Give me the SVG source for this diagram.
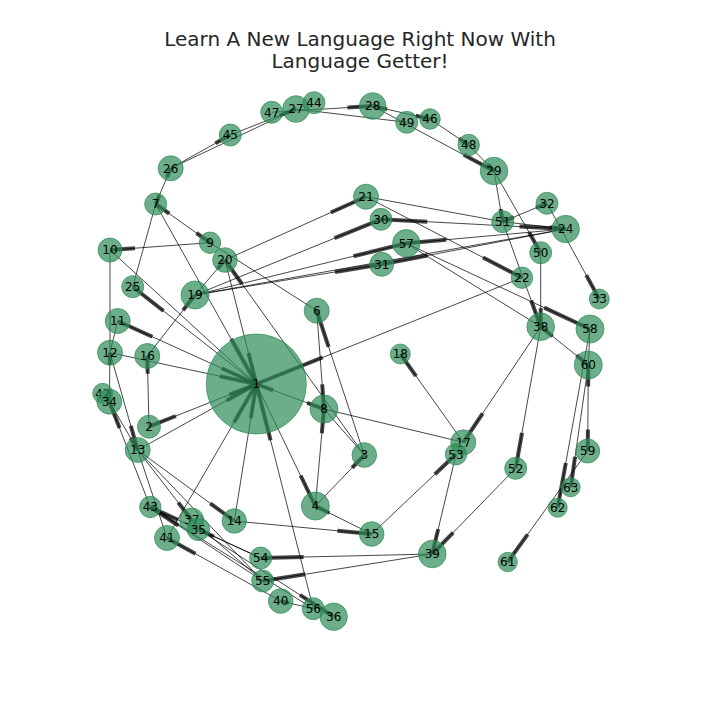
<svg xmlns="http://www.w3.org/2000/svg" width="720" height="720" viewBox="0 0 720 720">
<style>
.e{stroke:#000;stroke-opacity:0.72;stroke-width:1;fill:none}
.a{stroke:#000;stroke-opacity:0.72;stroke-width:4;fill:none}
.n{fill:#2E8B57;fill-opacity:0.7;stroke:#2E8B57;stroke-opacity:0.7;stroke-width:1}
.l{font-family:"DejaVu Sans","Liberation Sans",sans-serif;font-size:12px;fill:#000;text-anchor:middle}
.t{font-family:"DejaVu Sans","Liberation Sans",sans-serif;font-size:20px;fill:#262626;text-anchor:middle}
</style>
<rect width="720" height="720" fill="#fff"/>
<text class="t" x="360" y="46">Learn A New Language Right Now With</text>
<text class="t" x="360" y="68">Language Getter!</text>
<g id="edges">
<line class="e" x1="170.7" y1="168.3" x2="230.3" y2="135"/><line class="a" x1="215.4" y1="143.3" x2="230.3" y2="135"/>
<line class="e" x1="170.7" y1="168.3" x2="296" y2="109"/>
<line class="e" x1="230.3" y1="135" x2="296" y2="109"/><line class="a" x1="279.6" y1="115.5" x2="296" y2="109"/>
<line class="e" x1="271.7" y1="112.3" x2="372.7" y2="106"/><line class="a" x1="347.5" y1="107.6" x2="372.7" y2="106"/>
<line class="e" x1="296" y1="109" x2="406.7" y2="122.3"/>
<line class="e" x1="372.7" y1="106" x2="430" y2="119"/><line class="a" x1="415.7" y1="115.8" x2="430" y2="119"/>
<line class="a" x1="387" y1="109.3" x2="372.7" y2="106"/>
<line class="e" x1="372.7" y1="106" x2="494" y2="171"/><line class="a" x1="463.7" y1="154.8" x2="494" y2="171"/>
<line class="e" x1="430" y1="119" x2="468.7" y2="145"/><line class="a" x1="459" y1="138.5" x2="468.7" y2="145"/>
<line class="e" x1="468.7" y1="145" x2="494" y2="171"/><line class="a" x1="487.7" y1="164.5" x2="494" y2="171"/>
<line class="e" x1="494" y1="171" x2="502.7" y2="221.7"/><line class="a" x1="500.5" y1="209" x2="502.7" y2="221.7"/>
<line class="e" x1="494" y1="171" x2="540.7" y2="252.7"/><line class="a" x1="529" y1="232.3" x2="540.7" y2="252.7"/>
<line class="e" x1="366" y1="196.7" x2="502.7" y2="221.7"/>
<line class="e" x1="366" y1="196.7" x2="522" y2="277.7"/><line class="a" x1="483" y1="257.5" x2="522" y2="277.7"/>
<line class="e" x1="565.7" y1="229" x2="381" y2="219.3"/><line class="a" x1="427.2" y1="221.7" x2="381" y2="219.3"/>
<line class="a" x1="519.5" y1="226.6" x2="565.7" y2="229"/>
<line class="e" x1="502.7" y1="221.7" x2="565.7" y2="229"/><line class="a" x1="550" y1="227.2" x2="565.7" y2="229"/>
<line class="e" x1="547" y1="203.3" x2="502.7" y2="221.7"/><line class="a" x1="513.8" y1="217.1" x2="502.7" y2="221.7"/>
<line class="a" x1="535.9" y1="207.9" x2="547" y2="203.3"/>
<line class="e" x1="565.7" y1="229" x2="406.3" y2="243.3"/><line class="a" x1="446.2" y1="239.7" x2="406.3" y2="243.3"/>
<line class="e" x1="195" y1="295" x2="406.3" y2="243.3"/><line class="a" x1="353.5" y1="256.2" x2="406.3" y2="243.3"/>
<line class="e" x1="565.7" y1="229" x2="381.7" y2="264.3"/><line class="a" x1="427.7" y1="255.5" x2="381.7" y2="264.3"/>
<line class="e" x1="195" y1="295" x2="381.7" y2="264.3"/><line class="a" x1="335" y1="272" x2="381.7" y2="264.3"/>
<line class="e" x1="195" y1="295" x2="381" y2="219.3"/><line class="a" x1="334.5" y1="238.2" x2="381" y2="219.3"/>
<line class="e" x1="225" y1="260" x2="366" y2="196.7"/><line class="a" x1="330.8" y1="212.5" x2="366" y2="196.7"/>
<line class="e" x1="195" y1="295" x2="565.7" y2="229"/>
<line class="e" x1="406.3" y1="243.3" x2="590" y2="329"/><line class="a" x1="544.1" y1="307.6" x2="590" y2="329"/>
<line class="e" x1="406.3" y1="243.3" x2="540.7" y2="326.7"/>
<line class="e" x1="502.7" y1="221.7" x2="540.7" y2="326.7"/><line class="a" x1="531.2" y1="300.5" x2="540.7" y2="326.7"/>
<line class="e" x1="540.7" y1="252.7" x2="540.7" y2="326.7"/><line class="a" x1="540.7" y1="308.2" x2="540.7" y2="326.7"/>
<line class="e" x1="547" y1="203.3" x2="599.3" y2="299"/><line class="a" x1="586.2" y1="275.1" x2="599.3" y2="299"/>
<line class="e" x1="522" y1="277.7" x2="256.3" y2="384"/><line class="a" x1="322.7" y1="357.4" x2="256.3" y2="384"/>
<line class="e" x1="540.7" y1="326.7" x2="588.3" y2="365"/><line class="a" x1="576.4" y1="355.4" x2="588.3" y2="365"/>
<line class="a" x1="552.6" y1="336.3" x2="540.7" y2="326.7"/>
<line class="e" x1="588.3" y1="365" x2="587.7" y2="451"/><line class="a" x1="587.9" y1="429.5" x2="587.7" y2="451"/>
<line class="a" x1="588.2" y1="386.5" x2="588.3" y2="365"/>
<line class="e" x1="590" y1="329" x2="588.3" y2="365"/>
<line class="e" x1="590" y1="329" x2="557.7" y2="507.7"/><line class="a" x1="565.8" y1="463" x2="557.7" y2="507.7"/>
<line class="e" x1="588.3" y1="365" x2="570.7" y2="487.3"/><line class="a" x1="575.1" y1="456.7" x2="570.7" y2="487.3"/>
<line class="e" x1="587.7" y1="451" x2="507.7" y2="562"/><line class="a" x1="527.7" y1="534.3" x2="507.7" y2="562"/>
<line class="e" x1="540.7" y1="326.7" x2="463.3" y2="442.3"/><line class="a" x1="482.7" y1="413.4" x2="463.3" y2="442.3"/>
<line class="e" x1="540.7" y1="326.7" x2="515.7" y2="468.3"/><line class="a" x1="522" y1="432.9" x2="515.7" y2="468.3"/>
<line class="e" x1="463.3" y1="442.3" x2="400.3" y2="354"/><line class="a" x1="416.1" y1="376.1" x2="400.3" y2="354"/>
<line class="e" x1="324" y1="409" x2="463.3" y2="442.3"/>
<line class="e" x1="371.7" y1="534" x2="456" y2="454.3"/><line class="a" x1="434.9" y1="474.2" x2="456" y2="454.3"/>
<line class="e" x1="456" y1="454.3" x2="432.3" y2="554"/><line class="a" x1="438.2" y1="529.1" x2="432.3" y2="554"/>
<line class="e" x1="515.7" y1="468.3" x2="432.3" y2="554"/><line class="a" x1="453.2" y1="532.6" x2="432.3" y2="554"/>
<line class="e" x1="432.3" y1="554" x2="260.7" y2="558"/><line class="a" x1="303.6" y1="557" x2="260.7" y2="558"/>
<line class="e" x1="432.3" y1="554" x2="262.7" y2="581"/><line class="a" x1="305.1" y1="574.3" x2="262.7" y2="581"/>
<line class="e" x1="234.3" y1="521" x2="371.7" y2="534"/><line class="a" x1="337.4" y1="530.8" x2="371.7" y2="534"/>
<line class="e" x1="371.7" y1="534" x2="315.3" y2="506"/><line class="a" x1="329.4" y1="513" x2="315.3" y2="506"/>
<line class="e" x1="315.3" y1="506" x2="364.3" y2="455"/><line class="a" x1="352.1" y1="467.8" x2="364.3" y2="455"/>
<line class="e" x1="315.3" y1="506" x2="324" y2="409"/><line class="a" x1="321.8" y1="433.3" x2="324" y2="409"/>
<line class="e" x1="256.3" y1="384" x2="315.3" y2="506"/><line class="a" x1="300.6" y1="475.5" x2="315.3" y2="506"/>
<line class="e" x1="316.7" y1="310.7" x2="324" y2="409"/><line class="a" x1="322.2" y1="384.4" x2="324" y2="409"/>
<line class="e" x1="364.3" y1="455" x2="316.7" y2="310.7"/><line class="a" x1="328.6" y1="346.8" x2="316.7" y2="310.7"/>
<line class="e" x1="210" y1="242.7" x2="316.7" y2="310.7"/>
<line class="e" x1="324" y1="409" x2="364.3" y2="455"/>
<line class="e" x1="364.3" y1="455" x2="225" y2="260"/><line class="a" x1="242" y1="284" x2="225" y2="260"/>
<line class="e" x1="256.3" y1="384" x2="324" y2="409"/><line class="a" x1="307.1" y1="402.8" x2="324" y2="409"/>
<line class="a" x1="273.2" y1="390.3" x2="256.3" y2="384"/>
<line class="e" x1="155.7" y1="204" x2="170.7" y2="168.3"/><line class="a" x1="167" y1="177.2" x2="170.7" y2="168.3"/>
<line class="a" x1="159.5" y1="195.1" x2="155.7" y2="204"/>
<line class="e" x1="155.7" y1="204" x2="210" y2="242.7"/><line class="a" x1="196.4" y1="233" x2="210" y2="242.7"/>
<line class="a" x1="169.3" y1="213.7" x2="155.7" y2="204"/>
<line class="e" x1="210" y1="242.7" x2="110" y2="250"/><line class="a" x1="135" y1="248.2" x2="110" y2="250"/>
<line class="e" x1="155.7" y1="204" x2="132.7" y2="286.7"/>
<line class="e" x1="155.7" y1="204" x2="256.3" y2="384"/><line class="a" x1="231.2" y1="339" x2="256.3" y2="384"/>
<line class="e" x1="110" y1="250" x2="110" y2="352.7"/>
<line class="e" x1="110" y1="250" x2="256.3" y2="384"/>
<line class="e" x1="256.3" y1="384" x2="132.7" y2="286.7"/><line class="a" x1="163.6" y1="311" x2="132.7" y2="286.7"/>
<line class="e" x1="256.3" y1="384" x2="117.7" y2="321"/><line class="a" x1="152.4" y1="336.8" x2="117.7" y2="321"/>
<line class="a" x1="221.7" y1="368.3" x2="256.3" y2="384"/>
<line class="e" x1="117.7" y1="321" x2="110" y2="352.7"/>
<line class="e" x1="110" y1="352.7" x2="256.3" y2="384"/><line class="a" x1="219.7" y1="376.2" x2="256.3" y2="384"/>
<line class="e" x1="149" y1="426.7" x2="147.3" y2="356"/><line class="a" x1="147.7" y1="373.7" x2="147.3" y2="356"/>
<line class="e" x1="256.3" y1="384" x2="149" y2="426.7"/><line class="a" x1="175.8" y1="416" x2="149" y2="426.7"/>
<line class="a" x1="229.5" y1="394.7" x2="256.3" y2="384"/>
<line class="e" x1="147.3" y1="356" x2="195" y2="295"/><line class="a" x1="183.1" y1="310.3" x2="195" y2="295"/>
<line class="e" x1="195" y1="295" x2="225" y2="260"/><line class="a" x1="217.5" y1="268.8" x2="225" y2="260"/>
<line class="e" x1="225" y1="260" x2="256.3" y2="384"/><line class="a" x1="248.5" y1="353" x2="256.3" y2="384"/>
<line class="e" x1="137.7" y1="450" x2="256.3" y2="384"/><line class="a" x1="226.7" y1="400.5" x2="256.3" y2="384"/>
<line class="e" x1="167" y1="538" x2="256.3" y2="384"/><line class="a" x1="234" y1="422.5" x2="256.3" y2="384"/>
<line class="e" x1="234.3" y1="521" x2="256.3" y2="384"/><line class="a" x1="250.8" y1="418.3" x2="256.3" y2="384"/>
<line class="e" x1="313.3" y1="608.7" x2="256.3" y2="384"/><line class="a" x1="270.6" y1="440.2" x2="256.3" y2="384"/>
<line class="e" x1="109.3" y1="401.7" x2="110" y2="352.7"/><line class="a" x1="109.8" y1="365" x2="110" y2="352.7"/>
<line class="a" x1="109.5" y1="389.5" x2="109.3" y2="401.7"/>
<line class="e" x1="110" y1="352.7" x2="137.7" y2="450"/><line class="a" x1="130.8" y1="425.7" x2="137.7" y2="450"/>
<line class="e" x1="109.3" y1="401.7" x2="137.7" y2="450"/><line class="a" x1="130.6" y1="437.9" x2="137.7" y2="450"/>
<line class="e" x1="150.3" y1="507" x2="109.3" y2="401.7"/><line class="a" x1="119.6" y1="428" x2="109.3" y2="401.7"/>
<line class="e" x1="137.7" y1="450" x2="234.3" y2="521"/><line class="a" x1="210.2" y1="503.3" x2="234.3" y2="521"/>
<line class="e" x1="137.7" y1="450" x2="191.7" y2="520"/><line class="a" x1="178.2" y1="502.5" x2="191.7" y2="520"/>
<line class="e" x1="137.7" y1="450" x2="167" y2="538"/>
<line class="e" x1="260.7" y1="558" x2="150.3" y2="507"/><line class="a" x1="177.9" y1="519.8" x2="150.3" y2="507"/>
<line class="e" x1="262.7" y1="581" x2="150.3" y2="507"/><line class="a" x1="178.4" y1="525.5" x2="150.3" y2="507"/>
<line class="e" x1="280.7" y1="601" x2="167" y2="538"/><line class="a" x1="195.4" y1="553.8" x2="167" y2="538"/>
<line class="e" x1="198.3" y1="529.3" x2="333.7" y2="616.7"/><line class="a" x1="299.9" y1="594.9" x2="333.7" y2="616.7"/>
<line class="e" x1="313.3" y1="608.7" x2="280.7" y2="601"/><line class="a" x1="288.9" y1="602.9" x2="280.7" y2="601"/>
<line class="e" x1="260.7" y1="558" x2="198.3" y2="529.3"/><line class="a" x1="213.9" y1="536.5" x2="198.3" y2="529.3"/>
<line class="e" x1="150.3" y1="507" x2="313.3" y2="608.7"/>
<line class="e" x1="191.7" y1="520" x2="262.7" y2="581"/>
<line class="e" x1="137.7" y1="450" x2="262.7" y2="581"/>
</g>
<g id="n1"><circle class="n" cx="256.3" cy="384" r="50"/><text class="l" x="256.3" y="388.4">1</text></g>
<g id="n2"><circle class="n" cx="149" cy="426.7" r="11.5"/><text class="l" x="149" y="431.1">2</text></g>
<g id="n3"><circle class="n" cx="364.3" cy="455" r="12.3"/><text class="l" x="364.3" y="459.4">3</text></g>
<g id="n4"><circle class="n" cx="315.3" cy="506" r="14"/><text class="l" x="315.3" y="510.4">4</text></g>
<g id="n6"><circle class="n" cx="316.7" cy="310.7" r="12.5"/><text class="l" x="316.7" y="315.1">6</text></g>
<g id="n7"><circle class="n" cx="155.7" cy="204" r="11"/><text class="l" x="155.7" y="208.4">7</text></g>
<g id="n8"><circle class="n" cx="324" cy="409" r="14"/><text class="l" x="324" y="413.4">8</text></g>
<g id="n9"><circle class="n" cx="210" cy="242.7" r="10.7"/><text class="l" x="210" y="247.1">9</text></g>
<g id="n10"><circle class="n" cx="110" cy="250" r="12"/><text class="l" x="110" y="254.4">10</text></g>
<g id="n11"><circle class="n" cx="117.7" cy="321" r="12.5"/><text class="l" x="117.7" y="325.4">11</text></g>
<g id="n12"><circle class="n" cx="110" cy="352.7" r="12.5"/><text class="l" x="110" y="357.1">12</text></g>
<g id="n13"><circle class="n" cx="137.7" cy="450" r="12.5"/><text class="l" x="137.7" y="454.4">13</text></g>
<g id="n14"><circle class="n" cx="234.3" cy="521" r="12.2"/><text class="l" x="234.3" y="525.4">14</text></g>
<g id="n15"><circle class="n" cx="371.7" cy="534" r="12.3"/><text class="l" x="371.7" y="538.4">15</text></g>
<g id="n16"><circle class="n" cx="147.3" cy="356" r="12.5"/><text class="l" x="147.3" y="360.4">16</text></g>
<g id="n17"><circle class="n" cx="463.3" cy="442.3" r="12.5"/><text class="l" x="463.3" y="446.7">17</text></g>
<g id="n18"><circle class="n" cx="400.3" cy="354" r="10"/><text class="l" x="400.3" y="358.4">18</text></g>
<g id="n19"><circle class="n" cx="195" cy="295" r="14"/><text class="l" x="195" y="299.4">19</text></g>
<g id="n20"><circle class="n" cx="225" cy="260" r="12.3"/><text class="l" x="225" y="264.4">20</text></g>
<g id="n21"><circle class="n" cx="366" cy="196.7" r="12.5"/><text class="l" x="366" y="201.1">21</text></g>
<g id="n22"><circle class="n" cx="522" cy="277.7" r="10.7"/><text class="l" x="522" y="282.1">22</text></g>
<g id="n24"><circle class="n" cx="565.7" cy="229" r="13.7"/><text class="l" x="565.7" y="233.4">24</text></g>
<g id="n25"><circle class="n" cx="132.7" cy="286.7" r="11"/><text class="l" x="132.7" y="291.1">25</text></g>
<g id="n26"><circle class="n" cx="170.7" cy="168.3" r="12.5"/><text class="l" x="170.7" y="172.7">26</text></g>
<g id="n27"><circle class="n" cx="296" cy="109" r="13.3"/><text class="l" x="296" y="113.4">27</text></g>
<g id="n28"><circle class="n" cx="372.7" cy="106" r="13.3"/><text class="l" x="372.7" y="110.4">28</text></g>
<g id="n29"><circle class="n" cx="494" cy="171" r="13.8"/><text class="l" x="494" y="175.4">29</text></g>
<g id="n30"><circle class="n" cx="381" cy="219.3" r="11"/><text class="l" x="381" y="223.7">30</text></g>
<g id="n31"><circle class="n" cx="381.7" cy="264.3" r="12"/><text class="l" x="381.7" y="268.7">31</text></g>
<g id="n32"><circle class="n" cx="547" cy="203.3" r="11"/><text class="l" x="547" y="207.7">32</text></g>
<g id="n33"><circle class="n" cx="599.3" cy="299" r="10"/><text class="l" x="599.3" y="303.4">33</text></g>
<g id="n42"><circle class="n" cx="102.7" cy="393.3" r="10"/><text class="l" x="102.7" y="397.7">42</text></g>
<g id="n34"><circle class="n" cx="109.3" cy="401.7" r="12.5"/><text class="l" x="109.3" y="406.1">34</text></g>
<g id="n37"><circle class="n" cx="191.7" cy="520" r="12"/><text class="l" x="191.7" y="524.4">37</text></g>
<g id="n35"><circle class="n" cx="198.3" cy="529.3" r="11.3"/><text class="l" x="198.3" y="533.7">35</text></g>
<g id="n36"><circle class="n" cx="333.7" cy="616.7" r="13.7"/><text class="l" x="333.7" y="621.1">36</text></g>
<g id="n38"><circle class="n" cx="540.7" cy="326.7" r="13.8"/><text class="l" x="540.7" y="331.1">38</text></g>
<g id="n39"><circle class="n" cx="432.3" cy="554" r="13.8"/><text class="l" x="432.3" y="558.4">39</text></g>
<g id="n40"><circle class="n" cx="280.7" cy="601" r="12.3"/><text class="l" x="280.7" y="605.4">40</text></g>
<g id="n41"><circle class="n" cx="167" cy="538" r="12.5"/><text class="l" x="167" y="542.4">41</text></g>
<g id="n43"><circle class="n" cx="150.3" cy="507" r="10.7"/><text class="l" x="150.3" y="511.4">43</text></g>
<g id="n44"><circle class="n" cx="314" cy="102.7" r="11"/><text class="l" x="314" y="107.1">44</text></g>
<g id="n45"><circle class="n" cx="230.3" cy="135" r="11"/><text class="l" x="230.3" y="139.4">45</text></g>
<g id="n46"><circle class="n" cx="430" cy="119" r="10.3"/><text class="l" x="430" y="123.4">46</text></g>
<g id="n47"><circle class="n" cx="271.7" cy="112.3" r="11"/><text class="l" x="271.7" y="116.7">47</text></g>
<g id="n48"><circle class="n" cx="468.7" cy="145" r="10.7"/><text class="l" x="468.7" y="149.4">48</text></g>
<g id="n49"><circle class="n" cx="406.7" cy="122.3" r="11"/><text class="l" x="406.7" y="126.7">49</text></g>
<g id="n50"><circle class="n" cx="540.7" cy="252.7" r="11"/><text class="l" x="540.7" y="257.1">50</text></g>
<g id="n51"><circle class="n" cx="502.7" cy="221.7" r="11"/><text class="l" x="502.7" y="226.1">51</text></g>
<g id="n52"><circle class="n" cx="515.7" cy="468.3" r="11"/><text class="l" x="515.7" y="472.7">52</text></g>
<g id="n53"><circle class="n" cx="456" cy="454.3" r="10.7"/><text class="l" x="456" y="458.7">53</text></g>
<g id="n54"><circle class="n" cx="260.7" cy="558" r="11"/><text class="l" x="260.7" y="562.4">54</text></g>
<g id="n55"><circle class="n" cx="262.7" cy="581" r="11"/><text class="l" x="262.7" y="585.4">55</text></g>
<g id="n56"><circle class="n" cx="313.3" cy="608.7" r="11"/><text class="l" x="313.3" y="613.1">56</text></g>
<g id="n57"><circle class="n" cx="406.3" cy="243.3" r="13.7"/><text class="l" x="406.3" y="247.7">57</text></g>
<g id="n58"><circle class="n" cx="590" cy="329" r="14"/><text class="l" x="590" y="333.4">58</text></g>
<g id="n59"><circle class="n" cx="587.7" cy="451" r="12"/><text class="l" x="587.7" y="455.4">59</text></g>
<g id="n60"><circle class="n" cx="588.3" cy="365" r="14"/><text class="l" x="588.3" y="369.4">60</text></g>
<g id="n61"><circle class="n" cx="507.7" cy="562" r="9.7"/><text class="l" x="507.7" y="566.4">61</text></g>
<g id="n62"><circle class="n" cx="557.7" cy="507.7" r="9.5"/><text class="l" x="557.7" y="512.1">62</text></g>
<g id="n63"><circle class="n" cx="570.7" cy="487.3" r="9.5"/><text class="l" x="570.7" y="491.7">63</text></g>
</svg>
